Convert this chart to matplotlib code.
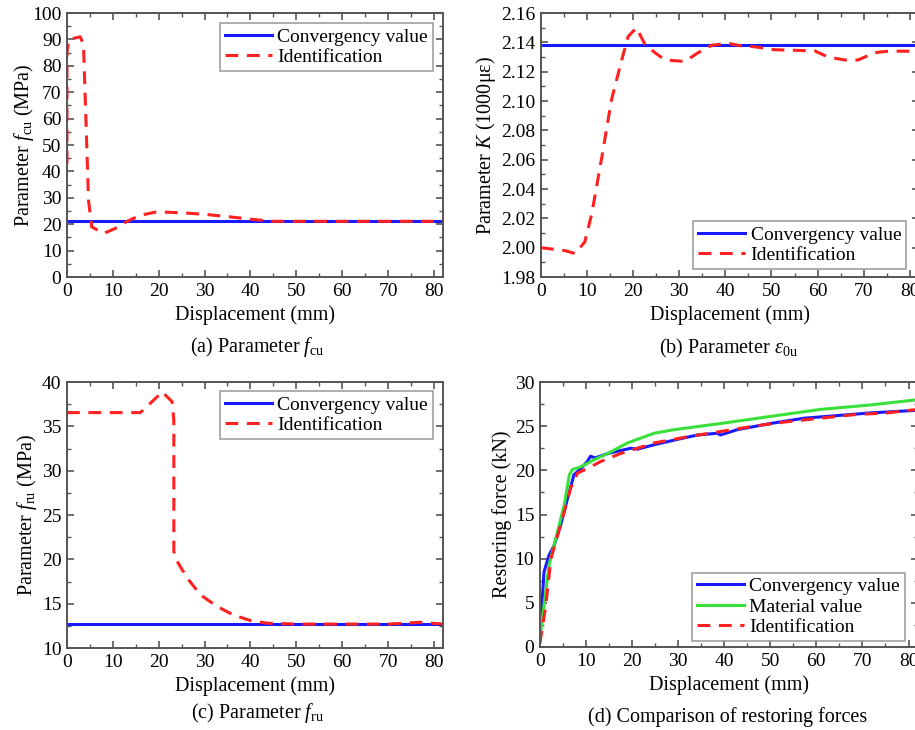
import matplotlib
matplotlib.use('Agg')
import matplotlib.pyplot as plt
from matplotlib.ticker import MultipleLocator, FormatStrFormatter

plt.rcParams['font.family'] = ['Liberation Serif', 'DejaVu Serif']
plt.rcParams['mathtext.fontset'] = 'custom'
plt.rcParams['mathtext.rm'] = 'Liberation Serif'
plt.rcParams['mathtext.it'] = 'Liberation Serif:italic'

BLUE = '#1a1aff'
RED = '#ff2020'
GREEN = '#3ae03a'
SPINE = '#555555'

# (a) compressive strength f_cu
fcu_conv = 21.1
fcu_x = [0, 0, 0.4, 2.9, 3.6, 4.7, 5.4, 8, 10.5, 13, 16, 19.6, 25.4, 30.4, 35.5, 40.6, 45, 50, 60, 70, 82]
fcu_y = [43, 85, 90, 91, 88, 29, 19, 16.5, 18.4, 21, 23.4, 24.7, 24.3, 23.7, 22.8, 21.8, 21.1, 21.1, 21.1, 21.1, 21.1]

# (b) peak strain eps_0u
k_conv = 2.1384
k_x = [0, 5.2, 7.4, 9.5, 11, 13.2, 15.3, 17.5, 18.9, 20.7, 22.5, 24.7, 26.9, 31.2, 34.1, 37, 40.6,
       43.5, 46.4, 50.7, 59.4, 62.3, 65.9, 68.8, 72.4, 75.3, 82]
k_y = [2.000, 1.998, 1.996, 2.004, 2.023, 2.062, 2.101, 2.128, 2.144, 2.150, 2.139, 2.133, 2.128, 2.127,
       2.133, 2.138, 2.1394, 2.1376, 2.137, 2.135, 2.1342, 2.130, 2.128, 2.128, 2.133, 2.134, 2.134]

# (c) f_ru
fru_conv = 12.7
fru_x = [0, 16, 19.6, 20.7, 22.9, 23.3, 23.3, 24, 26.2, 29.1, 32.7, 36.4, 40, 43.6, 50, 60, 70, 77, 82]
fru_y = [36.55, 36.55, 38.3, 38.9, 37.8, 35.7, 20.9, 19.8, 17.9, 16.0, 14.7, 13.7, 13.1, 12.8, 12.7, 12.7, 12.7, 12.9, 12.7]

# (d) restoring force curves
conv_x = [0, 0.36, 0.9, 2, 3.1, 4.5, 6, 7.4, 8.9, 10.3, 11, 12, 14.7, 19.7, 21.2, 24.8, 29.8, 34.2, 38.5,
          39.2, 42.8, 50, 57.3, 64.5, 71.7, 82]
conv_y = [0.6, 4, 8.5, 10.4, 11.5, 13.8, 16.8, 19.5, 20.2, 21, 21.6, 21.4, 21.9, 22.5, 22.4, 22.9, 23.5, 24,
          24.2, 24.0, 24.6, 25.3, 25.9, 26.2, 26.5, 26.8]
mat_x = [0, 0.9, 2, 3.8, 5.3, 6.4, 7.1, 8.9, 11.8, 14.7, 19, 24.8, 29.1, 39.2, 50, 60.9, 71.7, 82]
mat_y = [1, 4.7, 9.3, 13, 16.1, 19.5, 20.1, 20.4, 21.2, 21.9, 23.1, 24.2, 24.6, 25.3, 26.1, 26.9, 27.4, 28.0]
iden_x = [0, 1.3, 2.4, 4.5, 6.7, 8.2, 10.3, 13.2, 17.5, 24.8, 32, 39.2, 46.4, 53.6, 60.9, 68.1, 75.3, 82]
iden_y = [0.4, 4.7, 10, 13.8, 18, 19.7, 20.2, 21, 21.9, 23.1, 23.8, 24.4, 25, 25.5, 25.9, 26.3, 26.5, 26.9]

XMAX = 82
LW = 2.2
DASH = (4.2, 2.8)

fig = plt.figure(figsize=(9.15, 7.3), dpi=100)
ax_a = fig.add_axes([0.0732, 0.6205, 0.411, 0.3616])
ax_b = fig.add_axes([0.5913, 0.6205, 0.413, 0.3616])
ax_c = fig.add_axes([0.0732, 0.1123, 0.411, 0.3644])
ax_d = fig.add_axes([0.590, 0.1137, 0.413, 0.3630])


def style(ax, ylim, ymaj, ymin):
    ax.set_xlim(0, XMAX)
    ax.set_ylim(*ylim)
    ax.xaxis.set_major_locator(MultipleLocator(10))
    ax.xaxis.set_minor_locator(MultipleLocator(5))
    ax.yaxis.set_major_locator(MultipleLocator(ymaj))
    ax.yaxis.set_minor_locator(MultipleLocator(ymin))
    ax.tick_params(which='both', direction='in', top=True, right=True, color=SPINE,
                   labelsize=14, pad=4)
    ax.tick_params(which='major', length=5, width=1.2)
    ax.tick_params(which='minor', length=3, width=1.0)
    for s in ax.spines.values():
        s.set_color(SPINE)
        s.set_linewidth(1.4)
    ax.set_xlabel('Displacement (mm)', fontsize=14.5, labelpad=4)


def legend(ax, loc, anchor):
    leg = ax.legend(loc=loc, bbox_to_anchor=anchor, borderaxespad=0, fontsize=14,
                    fancybox=False, edgecolor='#888888', handlelength=2.4,
                    labelspacing=0.15, handletextpad=0.3, borderpad=0.25)
    leg.get_frame().set_linewidth(1.2)


# (a)
ax_a.axhline(fcu_conv, color=BLUE, lw=LW, label='Convergency value')
ax_a.plot(fcu_x, fcu_y, color=RED, lw=LW, dashes=DASH, label='Identification')
style(ax_a, (0, 100), 10, 5)
ax_a.set_ylabel(r'Parameter $f_{\rm cu}$ (MPa)', fontsize=14.5, labelpad=-3)
legend(ax_a, 'upper right', (0.973, 0.962))

# (b)
ax_b.axhline(k_conv, color=BLUE, lw=LW, label='Convergency value')
ax_b.plot(k_x, k_y, color=RED, lw=LW, dashes=DASH, label='Identification')
style(ax_b, (1.98, 2.16), 0.02, 0.01)
ax_b.yaxis.set_major_formatter(FormatStrFormatter('%.2f'))
ax_b.set_ylabel(r'Parameter $K$ (1000$\rm\mu\varepsilon$)', fontsize=14.5, labelpad=2)
legend(ax_b, 'lower right', (0.966, 0.03))

# (c)
ax_c.axhline(fru_conv, color=BLUE, lw=LW, label='Convergency value')
ax_c.plot(fru_x, fru_y, color=RED, lw=LW, dashes=DASH, label='Identification')
style(ax_c, (10, 40), 5, 2.5)
ax_c.set_ylabel(r'Parameter $f_{\rm ru}$ (MPa)', fontsize=14.5, labelpad=2)
legend(ax_c, 'upper right', (0.973, 0.966))

# (d)
ax_d.plot(conv_x, conv_y, color=BLUE, lw=LW, label='Convergency value')
ax_d.plot(mat_x, mat_y, color=GREEN, lw=LW, label='Material value')
ax_d.plot(iden_x, iden_y, color=RED, lw=LW, dashes=DASH, label='Identification')
style(ax_d, (0, 30), 5, 2.5)
ax_d.set_ylabel('Restoring force (kN)', fontsize=14.5, labelpad=2)
legend(ax_d, 'lower right', (0.966, 0.023))

# captions under each panel
cap = dict(fontsize=14.5, ha='center', va='center')
fig.text(0.281, 0.5247, r'(a) Parameter $f_{\rm cu}$', **cap)
fig.text(0.7956, 0.523, r'(b) Parameter $\varepsilon_{\rm 0u}$', **cap)
fig.text(0.281, 0.0233, r'(c) Parameter $f_{\rm ru}$', **cap)
fig.text(0.7956, 0.018, '(d) Comparison of restoring forces', **cap)

fig.savefig('out.png', dpi=100)
